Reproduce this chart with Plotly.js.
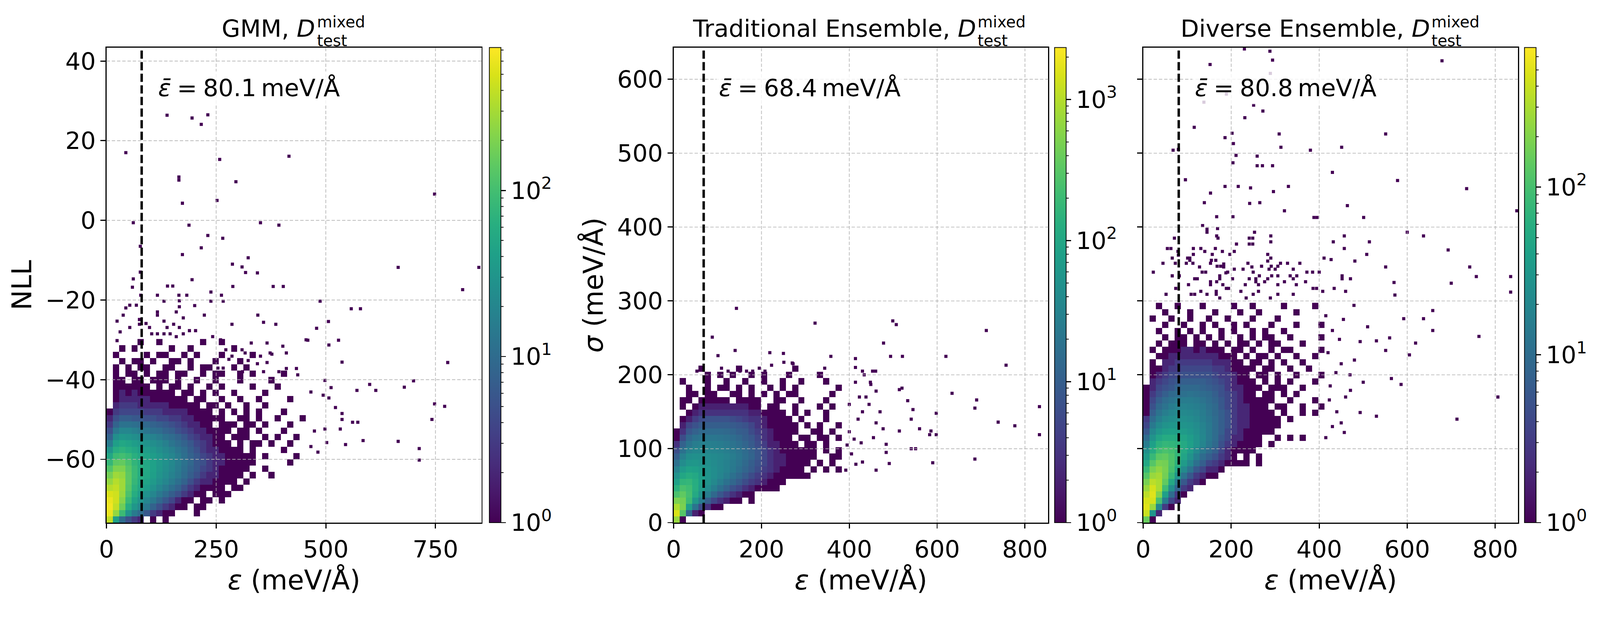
<!DOCTYPE html>
<html>
<head>
<meta charset="utf-8">
<script src="https://cdn.plot.ly/plotly-3.0.1.min.js"></script>
<style>
html,body{margin:0;padding:0;background:#fff;overflow:hidden;}
#chart{width:4280px;height:1627px;transform-origin:0 0;}
</style>
</head>
<body>
<div id="chart"></div>
<script>
// ---------------- DATA ----------------
const panelTitles = ['GMM', 'Traditional Ensemble', 'Diverse Ensemble'];
const meanErr = [80.1, 68.4, 80.8];             // mean error (dashed line), meV/Å
const maxCount = [725, 2340, 680];              // top of each log colour bar
const gmmXTicks = [0, 250, 500, 750];
const gmmYTicks = [-60, -40, -20, 0, 20, 40];
const gmmYTickText = ['\u221260', '\u221240', '\u221220', '0', '20', '40'];
const ensXTicks = [0, 200, 400, 600, 800];
const ensYTicks = [0, 100, 200, 300, 400, 500, 600];

// Bin counts of the dense core, rows from bottom (low y) to top, columns from x = 0.
// GMM: cells 14.2 meV/Å wide, 1.59 NLL tall, starting at NLL = -75.9
const gmmCounts = [
 [400,40,10,5,3,2,0,1,0,1],
 [600,250,90,30,15,10,6,3,2,1,1,0,0,0,1],
 [650,400,170,60,32,22,14,8,5,3,2,1,1,0,1,1],
 [600,450,220,85,45,30,20,14,9,6,4,2,1,1,0,1,1,0,1],
 [500,450,260,110,60,40,28,20,14,10,7,5,3,2,1,1,0,1,1,1],
 [350,400,280,130,70,50,38,28,20,15,11,8,5,3,2,1,1,1,1,0,1,1],
 [250,350,280,140,80,55,45,35,26,20,15,11,8,5,3,2,2,1,1,1,1,0,1],
 [180,280,250,140,85,60,50,40,30,24,18,14,10,7,5,3,2,2,1,1,1,1,0,1,0,0,1],
 [120,200,200,130,85,62,52,42,32,26,20,15,11,8,6,4,3,2,1,1,1,1,1,0,0,1],
 [80,140,150,110,75,60,50,42,33,27,21,16,12,9,6,5,3,2,2,1,1,1,1,1,0,0,0,0,0,1],
 [50,90,100,85,65,52,45,38,31,25,20,15,11,8,6,4,3,2,2,1,1,1,1,1,0,1,0,0,0,0,1],
 [30,60,70,60,50,42,37,32,26,21,17,13,10,7,5,3,2,2,1,1,1,1,0,1,0,0,0,0,1],
 [15,40,50,45,38,33,29,25,21,17,13,10,8,6,4,3,2,1,1,1,0,1,0,1,1,0,1,0,0,1],
 [8,25,32,30,26,23,20,18,15,12,10,8,6,4,3,2,2,1,1,0,1,1,1,0,0,1,0,1,0,0,1],
 [5,14,20,20,17,15,13,11,10,8,7,5,4,3,2,2,1,1,1,1,0,1,1,0,1,0,0,0,1],
 [3,8,12,12,11,10,9,8,7,6,5,4,3,2,2,1,1,0,1,1,1,0,1,1,0,1,0,0,0,1],
 [2,5,7,7,6,6,5,5,4,4,3,3,2,2,1,1,1,1,1,0,0,1,1,0,1,0,0,1,0,0,0,1],
 [1,3,4,4,4,4,3,3,3,2,2,2,2,1,1,1,1,0,1,0,1,0,1,0,1,0,0,0,1],
 [0,2,3,3,3,2,2,2,2,2,1,1,1,1,1,0,1,1,0,1,0,0,1,0,0,1],
 [0,1,2,2,2,2,2,1,1,1,1,1,1,0,1,1,0,0,1,0,0,1,0,0,1,0,0,0,0,1],
 [0,1,2,1,2,1,1,1,1,1,1,0,1,1,0,1,0,1,0,0,1,0,0,0,0,1],
 [0,1,1,1,1,1,1,0,1,0,1,1,0,1,0,0,1,0,1,0,0,0,0,1,0,0,0,1],
 [0,1,1,0,1,1,0,1,1,1,0,1,0,0,1,0,0,1,0,0,0,1,0,0,0,0,1],
 [0,1,0,1,1,0,1,0,1,1,0,1,1,0,0,1,0,1,1,0,0,1,0,1,0,0,0,0,1],
 [0,1,0,1,0,1,1,0,0,1,1,0,0,1,0,1,1,0,0,0,1,0,1],
 [0,0,1,0,1,1,0,1,0,0,1,1,0,1,0,0,0,1,0,0,0,1],
 [0,1,0,0,0,0,1,0,1,1,0,0,1,0,1,0,0,0,1,0,0,0,0,1],
 [0,0,1,0,1,0,0,0,0,0,1,0,0,1,0,0,0,0,0,0,1],
 [0,0,0,0,0,1,0,0,1,0,0,0,0,0,0,1,0,0,1]
];
// isolated single-count bins outside the core: [error, NLL]
const gmmSparse = [
 [138,26.4],[195,25.7],[216,24.1],[231,26.5],[44,17.0],[258,15.3],[416,16.1],[165,10.9],[165,10.1],
 [295,9.7],[748,6.6],[252,5.0],[173,4.3],[61,-0.6],[351,-0.6],[393,-1.2],[188,-1.2],[231,-3.8],
 [265,-4.5],[216,-6.9],[173,-8.6],[323,-9.4],[287,-11.0],[309,-11.7],[665,-11.8],[849,-11.8],
 [317,-13.1],[344,-13.2],[61,-14.7],[195,-14.9],[812,-17.4],[139,-16.5],[151,-16.5],[288,-16.6],
 [380,-16.6],[403,-16.6],[59,-16.8],[116,-18.8],[165,-18.8],[183,-18.8],[238,-18.0],[262,-18.8],
 [77,-6.5],[77,-13.0],[78,-18.8],[487,-20.3],[558,-22.2],[579,-22.2],[479,-27.1],[506,-25.4],
 [459,-30.1],[507,-31.3],[529,-30.1],[778,-35.7],[537,-35.6],[700,-40.3],[600,-41.2],[614,-42.7],
 [679,-41.9],[571,-42.7],[498,-40.2],[512,-42.0],[466,-43.1],[494,-43.9],[507,-44.6],[748,-46.1],
 [771,-46.7],[522,-47.0],[537,-48.5],[537,-50.0],[561,-50.7],[573,-50.7],[742,-50.0],[474,-52.9],
 [498,-52.4],[533,-52.4],[502,-55.8],[545,-56.3],[585,-55.3],[665,-55.5],[482,-58.2],[713,-57.3],
 [713,-60.2],[466,-56.8],
 [131,-20.3],[166,-20.2],[166,-21.7],[201,-21.4],[238,-20.3],[266,-20.3],[53,-21.3],[68,-21.3],
 [44,-22.0],[38,-23.8],[116,-23.0],[116,-23.8],[159,-23.0],[223,-23.8],[345,-23.8],[24,-25.3],
 [75,-24.9],[75,-26.1],[131,-25.3],[175,-24.5],[90,-25.9],[98,-26.9],[153,-26.1],[166,-26.9],
 [138,-26.9],[286,-26.1],[358,-25.6],[386,-26.1],[31,-28.0],[53,-26.9],[189,-27.7],[203,-27.7],
 [103,-28.5],[116,-28.5],[131,-28.5],[145,-28.5],[175,-28.5],[242,-29.2],[24,-30.2],[159,-29.2],
 [455,-30.0],[260,-30.0],[330,-30.8],[366,-30.8],[402,-31.6],[410,-33.3],[377,-33.6],[351,-34.1],
 [323,-35.2],[344,-36.0],[366,-35.7],[358,-38.0],[393,-38.0],[410,-37.2],[433,-37.2],[316,-37.2],
 [310,-38.0],[330,-38.8],[436,-38.8],[286,-34.1],[279,-34.9],[272,-32.5],[309,-32.5],[316,-33.3],
 [373,-33.3],[254,-37.1],[266,-37.1]
];

// Traditional ensemble: cells 14.2 meV/Å wide, 8.5 meV/Å tall, from sigma = 0
const tradCounts = [
 [700,1],
 [1500,300,12,2,1],
 [900,500,80,20,6,3,1,1],
 [500,450,200,60,25,10,5,3,2,1,1,0,1],
 [250,350,230,110,50,26,14,8,5,3,2,1,1],
 [140,250,210,130,70,42,27,17,11,7,5,3,2,1,1,1,1],
 [80,160,170,125,80,55,38,26,18,13,9,6,4,3,2,1,1,1],
 [50,100,120,105,75,55,43,33,25,18,13,9,6,4,3,2,1,1,1,1,1,1],
 [30,65,85,80,65,52,43,35,29,23,17,12,9,6,4,3,2,1,1,1,1,0,1,0,1,0,1],
 [18,42,58,60,52,46,40,34,29,24,19,14,10,7,5,3,2,2,1,1,1,1,0,1,0,1],
 [10,28,44,48,46,42,39,35,31,26,21,16,12,8,5,3,2,2,1,1,1,1,1,0,0,1,1],
 [6,18,30,36,36,34,32,30,27,23,19,15,11,8,5,3,2,1,1,1,1,1,1,0,1,0,1],
 [3,11,20,26,28,28,27,25,22,19,16,12,9,6,4,2,2,1,1,1,0,1,1,0,1],
 [1,6,13,18,20,21,21,20,18,16,13,10,8,5,3,2,1,1,1,0,1,1,0,1,1,0,1],
 [1,3,8,11,14,15,15,15,14,12,10,9,6,4,3,2,1,1,1,1,0,0,1,1,0,1],
 [0,2,5,7,9,10,10,10,10,9,8,7,5,3,2,1,1,1,1,1,0,1,0,1,0,0,1],
 [0,1,2,4,6,7,7,7,7,6,5,4,3,3,2,1,1,1,1,0,1,0,0,0,1],
 [0,0,1,2,3,3,3,3,3,3,3,3,2,2,1,1,1,1,0,1,0,1,0,0,1],
 [0,1,0,1,2,2,2,2,2,2,2,2,1,1,0,1,1,0,0,1,0,0,0,1,0,1],
 [0,1,1,0,1,1,1,1,1,0,1,1,1,1,0,0,1,1,0,0,1,0,0,0,1],
 [0,0,1,1,0,1,1,0,0,1,1,0,1,0,1,0,1,0,1,1,0,0,0,0,0,1],
 [0,0,1,0,0,1,0,1,1,0,1,0,1,0,0,1,0,1,0,1,0,0,0,0,0,0,1],
 [0,1,0,0,0,1,0,0,1,0,0,1,0,0,1,0,0,1,0,0,1,0,0,0,1],
 [0,0,0,0,0,1,0,1,0,1,0,0,1,0,1,0,0,0,1,0,0,0,0,1],
 [0,0,0,0,1,0,0,0,0,0,1,0,0,0,0,0,0,0,0,1]
];
// isolated single-count bins: [error, sigma]
const tradSparse = [
 [143,290],[88,251],[322,270],[499,273],[507,268],[712,260],[478,243],[140,233],[101,226],
 [219,230],[250,229],[358,225],[414,222],[494,225],[521,225],[620,225],[757,213],[270,216],
 [414,210],[430,205],[414,190],[434,200],[448,190],[449,187],[438,170],[423,170],[461,178],
 [514,180],[520,182],[533,165],[545,153],[541,140],[586,124],[598,148],[598,119],[634,175],
 [686,155],[690,166],[739,136],[777,131],[833,157],[833,119],[686,86],[590,81],[491,80],
 [461,71],[484,95],[484,106],[514,124],[541,100],[551,100],[560,127],[583,119],[415,79],
 [430,82],[411,113],[400,123],[461,135],[477,127],[430,150],[427,108],[392,71],[405,93],
 [455,115],[420,140],[445,160],[400,160],[470,150],[395,105],[223,213],[251,217],[272,215],
 [279,207],[344,209],[195,209],[109,209],[53,205],[124,205],[151,205],[166,205],[180,205],
 [208,205],[453,205],[460,205]
];

// Diverse ensemble: cells 14.2 meV/Å wide, 8.5 meV/Å tall, from sigma = 0
const divCounts = [
 [150,1],
 [400,30,2],
 [500,250,20,3,1],
 [450,450,100,15,4,2],
 [350,500,200,40,10,3,1],
 [250,450,300,90,25,8,3,2],
 [180,350,300,140,50,15,6,3,2,1],
 [120,250,280,170,80,30,12,6,3,2,1,1],
 [80,180,230,180,100,50,22,12,6,4,2,2,1],
 [50,120,180,170,110,65,35,20,11,7,4,3,2,1,1,1,1,0,1],
 [35,80,130,140,110,75,45,28,16,10,7,5,3,2,1,0,1,0,1],
 [25,55,90,105,95,75,52,36,22,14,10,7,4,2,1,1,1,1],
 [15,40,65,75,72,65,52,40,28,19,13,9,5,3,2,1,1,1,1,0,1],
 [10,28,45,55,55,52,45,37,28,20,14,10,6,4,2,2,1,1,1,0,0,1,0,1,0,1],
 [6,20,30,38,40,38,35,30,25,19,14,10,7,4,3,2,1,1,1,1,1],
 [4,14,22,28,30,30,29,27,23,18,14,10,7,5,3,2,2,1,1,1,1,1],
 [3,10,16,21,24,25,25,23,20,16,13,10,7,5,3,2,2,1,1,1,1,1,0,1],
 [1,7,12,16,19,21,21,20,18,15,12,9,7,5,3,2,2,1,1,1,1,0,1,0,0,1,0,1],
 [1,5,9,12,15,17,18,17,16,14,11,9,6,4,3,2,2,1,1,1,0,1,1,0,0,1,0,0,1],
 [1,4,7,10,12,14,15,15,14,12,10,8,6,4,3,2,1,1,1,1,1,0,0,1,0,0,0,1],
 [1,3,5,7,9,10,11,12,11,10,9,7,5,4,3,2,1,1,0,1,1,0,1,0,1],
 [1,2,4,5,6,8,9,9,9,8,7,6,5,3,2,2,1,1,1,0,1,1,1,0,0,1],
 [0,2,3,4,5,6,7,7,7,7,6,5,4,3,2,1,1,1,0,1,0,1,0,1,0,0,0,1],
 [0,1,2,3,4,4,5,5,5,5,5,4,3,3,2,1,1,0,1,1,0,1,0,0,1,0,0,0,1],
 [0,1,1,2,3,3,4,4,4,4,4,3,3,2,1,1,1,1,0,1,1,0,0,1,0,0,1],
 [0,1,0,2,2,3,3,3,3,3,3,2,2,2,1,1,0,1,1,0,1,0,1,0,0,1],
 [0,0,1,1,2,2,2,2,2,2,2,2,1,1,1,0,1,0,1,1,0,1,0,0,1,0,0,1],
 [0,1,0,1,1,1,2,2,1,2,1,1,1,0,1,1,0,1,0,0,1,0,1,1,0,0,0,0,1],
 [0,0,1,0,1,1,1,0,1,1,0,1,0,1,0,1,1,0,1,0,1,1,0,0,0,1],
 [0,0,0,1,0,1,1,0,1,0,1,0,1,0,0,1,0,1,0,1,1,0,0,1,0,0,0,0,1],
 [0,0,1,0,0,1,0,1,0,1,0,0,1,0,1,0,0,1,0,1,0,0,1],
 [0,0,0,1,0,0,1,0,0,1,0,1,0,0,1,0,1,0,0,0,1,0,0,0,1,0,0,0,1],
 [0,1,0,0,1,0,0,1,0,0,1,0,0,1,0,0,0,1,0,0,0,1],
 [0,0,0,1,0,0,0,1,0,0,0,1,0,0,0,1,0,0,1,0,0,0,0,0,1],
 [0,0,1,0,0,1,0,0,0,1,0,0,0,0,1,0,0,1,0,0,0,0,1,0,0,0,0,1]
];
// isolated single-count bins: [error, sigma]
const divSparse = [
 [230,641],[288,638],[294,626],[679,625],[152,620],[289,608],[189,580],[138,569],[251,565],
 [272,557],[231,548],[116,535],[202,527],[186,521],[205,513],[309,526],[551,526],[313,508],
 [380,504],[451,508],[68,504],[80,505],[211,497],[259,496],[271,483],[259,483],[294,483],
 [204,487],[430,474],[96,464],[578,463],[186,455],[216,455],[244,453],[296,448],[330,455],
 [735,452],[153,446],[139,433],[242,432],[265,433],[464,429],[167,414],[204,414],[321,422],
 [388,413],[395,413],[501,413],[849,422],[135,402],
 [514,380],[600,393],[637,388],[508,363],[693,369],[742,346],[757,333],[835,333],[700,324],
 [835,312],[551,346],[570,325],[572,308],[471,330],
 [479,294],[493,245],[530,246],[551,233],[564,195],[586,187],[592,276],[605,227],[619,243],
 [637,276],[658,287],[658,260],[763,252],[806,170],[713,140],[530,144],[493,149],[471,179],
 [457,122],[423,166],[438,203],[446,248],[420,230],[430,260],[450,215],[470,200],[425,185],
 [440,150],[460,170],[480,220],[500,190],[415,280],[455,275],[510,265],[560,250],[430,130],
 [415,115],[450,135],
 [145,397],[145,393],[169,398],[253,393],[167,388],[170,385],[241,385],[249,385],[241,377],
 [249,377],[290,388],[290,380],[432,380],[457,388],[457,371],[212,377],[71,385],[55,371],
 [63,371],[79,367],[114,371],[131,371],[114,363],[140,367],[164,371],[180,367],[197,363],
 [207,367],[157,363],[66,358],[80,362],[101,358],[106,358],[155,355],[165,355],[283,363],
 [283,354],[290,358],[411,358],[427,356],[481,354],[45,351],[73,351],[98,351],[106,355],
 [113,351],[128,346],[153,351],[168,347],[176,347],[183,350],[183,346],[207,343],[238,351],
 [247,346],[269,347],[286,343],[291,347],[300,343],[306,347],[312,351],[328,351],[341,343],
 [356,351],[23,339],[66,334],[82,334],[134,339],[142,339],[192,339],[227,343],[250,339],
 [264,334],[292,334],[306,334],[334,334],[349,334],[372,339],[385,339],[400,339],[452,334],
 [103,322],[117,330],[123,330],[153,326],[153,322],[167,326],[174,334],[174,330],[188,338],
 [181,322],[194,317],[203,330],[232,322],[241,330],[256,330],[256,326],[262,322],[276,326],
 [283,330],[306,322],[321,326],[341,330],[348,322],[369,326],[434,317],[452,330],[52,309],
 [74,317],[109,309],[117,309],[131,313],[145,309],[166,313],[166,309],[174,304],[189,317],
 [222,313],[234,304],[250,309],[262,313],[289,304],[306,309],[341,309],[386,317],[394,317],
 [408,313],[460,313]
];

// ---------------- LAYOUT CONSTANTS ----------------
const W = 4280, H = 1627;
const FONT = 'DejaVu Sans';
const px = v => v / W;
const py = v => 1 - v / H;
const axTop = 127, axBot = 1397;
const yDom = [py(axBot), py(axTop)];
const xDoms = [[285, 1288], [1802, 2804], [3058, 4061]];
const cbLeft = [1309, 2821, 4078];
const cbThick = 31;
const xRanges = [[0, 855], [0, 853], [0, 852]];
const yRanges = [[-75.9, 43.4], [0, 643], [0, 643]];
const cellW = [14.2, 14.2, 14.2];
const cellH = [1.59, 8.5, 8.5];
const yStart = [-75.9, 0, 0];
const countsList = [gmmCounts, tradCounts, divCounts];
const sparseList = [gmmSparse, tradSparse, divSparse];
const suffix = ['', '2', '3'];

// fit the fixed-size figure into the actual viewport
(function fitViewport() {
  const s = Math.min(window.innerWidth / W, window.innerHeight / H);
  if (isFinite(s) && s > 0 && Math.abs(s - 1) > 0.002) {
    document.getElementById('chart').style.transform = 'scale(' + s + ')';
  }
})();

const traces = [];
const shapes = [];
for (let i = 0; i < 3; i++) {
  const L = Math.log10(maxCount[i]);
  const major = [0, 1, 2, 3].filter(v => v <= L);
  const z = countsList[i].map(row => row.map(c => (c > 0 ? Math.log10(c) : null)));
  traces.push({
    type: 'heatmap', z: z,
    x0: cellW[i] / 2, dx: cellW[i], y0: yStart[i] + cellH[i] / 2, dy: cellH[i],
    xaxis: 'x' + suffix[i], yaxis: 'y' + suffix[i],
    colorscale: 'Viridis', zmin: 0, zmax: L, hoverinfo: 'skip',
    colorbar: {
      thickness: cbThick, thicknessmode: 'pixels', len: yDom[1] - yDom[0], lenmode: 'fraction',
      y: yDom[0], yanchor: 'bottom', x: px(cbLeft[i]), xanchor: 'left', xpad: 0, ypad: 0,
      outlinewidth: 2, outlinecolor: 'black', ticks: 'outside', tickcolor: 'black',
      ticklen: 13, tickwidth: 3, tickvals: major,
      ticktext: major.map(v => '10<sup>' + v + '</sup>'),
      tickfont: {family: FONT, size: 64, color: 'black'}
    }
  });
  const sp = sparseList[i];
  traces.push({
    type: 'scatter', mode: 'markers',
    x: sp.map(p => p[0]), y: sp.map(p => p[1]),
    xaxis: 'x' + suffix[i], yaxis: 'y' + suffix[i], hoverinfo: 'skip',
    marker: {
      symbol: 'square', size: 8.4, line: {width: 0},
      color: sp.map(() => 0), colorscale: 'Viridis', cmin: 0, cmax: L, showscale: false
    }
  });
  // minor (log) ticks on the colour bar
  for (let k = 0; k < 4; k++) for (let m = 2; m <= 9; m++) {
    const v = k + Math.log10(m);
    if (v >= L) continue;
    const yy = yDom[0] + (v / L) * (yDom[1] - yDom[0]);
    shapes.push({type: 'line', xref: 'paper', yref: 'paper',
      x0: px(cbLeft[i] + cbThick), x1: px(cbLeft[i] + cbThick + 7), y0: yy, y1: yy,
      line: {color: 'black', width: 2}});
  }
}

const axisBase = {
  showline: true, mirror: true, linecolor: 'black', linewidth: 3,
  ticks: 'outside', ticklen: 13, tickwidth: 3, tickcolor: 'black',
  showgrid: false, zeroline: false, fixedrange: true,
  tickfont: {family: FONT, size: 64, color: 'black'}
};
const xTitle = {text: '<i>\u03b5</i> (meV/\u00c5)', font: {family: FONT, size: 72, color: 'black'}, standoff: 22};

const layout = {
  width: W, height: H, margin: {l: 0, r: 0, t: 0, b: 0},
  paper_bgcolor: 'white', plot_bgcolor: 'white', showlegend: false,
  font: {family: FONT, color: 'black'},
  xaxis: Object.assign({}, axisBase, {domain: [px(xDoms[0][0]), px(xDoms[0][1])], range: xRanges[0], anchor: 'y', tickvals: gmmXTicks, title: xTitle}),
  yaxis: Object.assign({}, axisBase, {domain: yDom, range: yRanges[0], anchor: 'x', tickvals: gmmYTicks, ticktext: gmmYTickText,
    title: {text: 'NLL', font: {family: FONT, size: 72, color: 'black'}, standoff: 14}}),
  xaxis2: Object.assign({}, axisBase, {domain: [px(xDoms[1][0]), px(xDoms[1][1])], range: xRanges[1], anchor: 'y2', tickvals: ensXTicks, title: xTitle}),
  yaxis2: Object.assign({}, axisBase, {domain: yDom, range: yRanges[1], anchor: 'x2', tickvals: ensYTicks,
    title: {text: '<i>\u03c3</i> (meV/\u00c5)', font: {family: FONT, size: 72, color: 'black'}, standoff: 15}}),
  xaxis3: Object.assign({}, axisBase, {domain: [px(xDoms[2][0]), px(xDoms[2][1])], range: xRanges[2], anchor: 'y3', tickvals: ensXTicks, title: xTitle}),
  yaxis3: Object.assign({}, axisBase, {domain: yDom, range: yRanges[2], anchor: 'x3', tickvals: ensYTicks, showticklabels: false}),
  shapes: shapes, annotations: []
};

// grid lines (drawn over the histogram, as in the reference) and the mean-error line
const gridLine = {color: 'rgba(176,176,176,0.85)', width: 2, dash: '9px,5px'};
const xTickSets = [gmmXTicks, ensXTicks, ensXTicks];
const yTickSets = [gmmYTicks, ensYTicks, ensYTicks];
for (let i = 0; i < 3; i++) {
  const xa = 'x' + suffix[i], ya = 'y' + suffix[i];
  xTickSets[i].filter(v => v > xRanges[i][0] && v < xRanges[i][1]).forEach(v => {
    shapes.push({type: 'line', xref: xa, yref: ya + ' domain', x0: v, x1: v, y0: 0, y1: 1, line: gridLine, layer: 'above'});
  });
  yTickSets[i].filter(v => v > yRanges[i][0] && v < yRanges[i][1]).forEach(v => {
    shapes.push({type: 'line', xref: xa + ' domain', yref: ya, x0: 0, x1: 1, y0: v, y1: v, line: gridLine, layer: 'above'});
  });
  shapes.push({type: 'line', xref: xa, yref: ya + ' domain', x0: meanErr[i], x1: meanErr[i], y0: 0, y1: 1,
    line: {color: 'black', width: 6.5, dash: '22px,9px'}, layer: 'above'});
}

// titles: "<name>, D^mixed_test" with stacked super/subscript
const titleDEnd = [843, 2611, 3826];
const titleSupStart = [848, 2615, 3829];
for (let i = 0; i < 3; i++) {
  layout.annotations.push({
    xref: 'paper', yref: 'paper', x: px(titleDEnd[i]), y: py(113), xanchor: 'right', yanchor: 'bottom',
    text: panelTitles[i] + ', <i>D</i>', showarrow: false, borderpad: 0, borderwidth: 0,
    font: {family: FONT, size: 64, color: 'black'}
  });
  layout.annotations.push({
    xref: 'paper', yref: 'paper', x: px(titleSupStart[i]), y: py(83), xanchor: 'left', yanchor: 'bottom',
    text: 'mixed', showarrow: false, borderpad: 0, borderwidth: 0, font: {family: FONT, size: 42, color: 'black'}
  });
  layout.annotations.push({
    xref: 'paper', yref: 'paper', x: px(titleSupStart[i]), y: py(84), xanchor: 'left', yanchor: 'top',
    text: 'test', showarrow: false, borderpad: 0, borderwidth: 0, font: {family: FONT, size: 42, color: 'black'}
  });
}
// mean-error labels
const labelLeft = [416, 1916, 3189];
for (let i = 0; i < 3; i++) {
  layout.annotations.push({
    xref: 'paper', yref: 'paper', x: px(labelLeft[i]), y: py(235), xanchor: 'left', yanchor: 'middle',
    text: '<i>\u03b5\u0304</i>\u2005=\u2005' + meanErr[i].toFixed(1) + '\u2009meV/\u00c5',
    showarrow: false, bgcolor: 'rgba(255,255,255,0.8)', borderpad: 6,
    font: {family: FONT, size: 64, color: 'black'}
  });
}

Plotly.newPlot('chart', traces, layout, {staticPlot: true, displayModeBar: false});
</script>
</body>
</html>
